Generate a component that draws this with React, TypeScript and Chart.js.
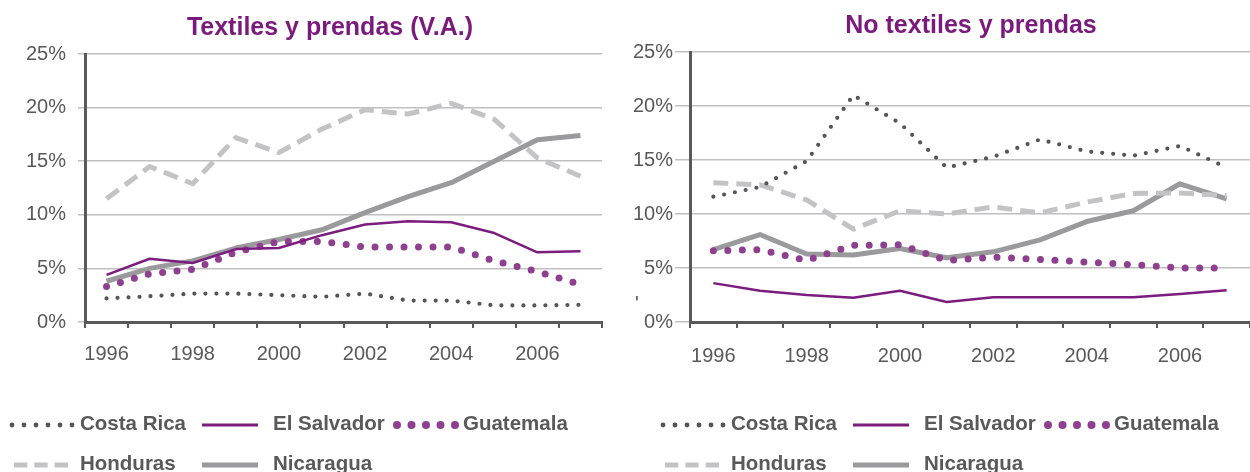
import React, { useEffect, useRef } from 'react';
import { Chart, registerables } from 'chart.js';

Chart.register(...registerables);

const FONT = "'Liberation Sans', Arial, sans-serif";
const GRAY_TEXT = '#595959';
const TITLE_COLOR = '#7A1A7C';

const years = ['1996', '1997', '1998', '1999', '2000', '2001', '2002', '2003', '2004', '2005', '2006', '2007'];
const shownYears = ['1996', '1998', '2000', '2002', '2004', '2006'];
const yTicks = [0, 5, 10, 15, 20, 25];
const countries = ['Costa Rica', 'El Salvador', 'Guatemala', 'Honduras', 'Nicaragua'];

// Textiles y prendas (V.A.)  (%)
const taCostaRica = [2.2, 2.4, 2.65, 2.65, 2.5, 2.35, 2.65, 2.0, 2.0, 1.55, 1.55, 1.6];
const taElSalvador = [4.4, 5.9, 5.5, 6.8, 6.9, 8.1, 9.1, 9.4, 9.3, 8.3, 6.5, 6.6];
const taGuatemala = [3.3, 4.5, 4.9, 6.5, 7.5, 7.5, 7.0, 7.0, 7.0, 5.7, 4.7, 3.5];
const taHonduras = [11.5, 14.5, 12.9, 17.2, 15.8, 18.0, 19.8, 19.4, 20.4, 18.9, 15.3, 13.6];
const taNicaragua = [3.8, 5.0, 5.7, 6.9, 7.7, 8.6, 10.2, 11.7, 13.0, 15.0, 17.0, 17.4];

// No textiles y prendas (%)
const ntCostaRica = [11.6, 12.5, 14.9, 21.0, 18.4, 14.3, 15.3, 16.9, 15.8, 15.4, 16.3, 14.3];
const ntElSalvador = [3.6, 2.9, 2.5, 2.25, 2.9, 1.85, 2.3, 2.3, 2.3, 2.3, 2.6, 2.95];
const ntGuatemala = [6.6, 6.7, 5.7, 7.1, 7.15, 5.7, 6.0, 5.8, 5.55, 5.3, 5.0, 5.0];
const ntHonduras = [12.9, 12.7, 11.3, 8.6, 10.3, 10.0, 10.65, 10.1, 11.1, 11.9, 11.95, 11.7];
const ntNicaragua = [6.7, 8.1, 6.3, 6.2, 6.8, 5.95, 6.5, 7.6, 9.3, 10.3, 12.8, 11.4];

const styles = [
  { color: '#555555', width: 4.2, dash: [0, 11], cap: 'round', legend: 'smallDots' },
  { color: '#7B1C7E', width: 2.5, dash: [], cap: 'butt', legend: 'line' },
  { color: '#8E3F8F', width: 7, dash: [0, 14.5], cap: 'round', legend: 'bigDots' },
  { color: '#C3C3C6', width: 5, dash: [15, 8], cap: 'butt', legend: 'dash' },
  { color: '#9A9A9C', width: 5, dash: [], cap: 'butt', legend: 'thick' },
];

// legend layout (x relative to canvas of left chart; right chart shifted)
const legendLayout = [
  { row: 0, sx1: 12, sx2: 72, tx: 80 },
  { row: 0, sx1: 202, sx2: 258, tx: 273 },
  { row: 0, sx1: 397, sx2: 455, tx: 463 },
  { row: 1, sx1: 14, sx2: 68, tx: 80 },
  { row: 1, sx1: 202, sx2: 258, tx: 273 },
];
const legendRowsY = [424, 464];

const overlayPlugin = {
  id: 'overlay',
  afterDraw(chart: any) {
    const o = chart.options.plugins.overlay;
    const ctx = chart.ctx;
    ctx.save();
    // title
    ctx.fillStyle = TITLE_COLOR;
    ctx.font = `bold 25px ${FONT}`;
    ctx.textAlign = 'center';
    ctx.textBaseline = 'middle';
    ctx.fillText(o.title, o.titleX, o.titleY);
    if (o.mark) {
      ctx.fillStyle = GRAY_TEXT;
      ctx.font = `20px ${FONT}`;
      ctx.fillText("'", o.mark[0], o.mark[1]);
    }
    // legend
    chart.data.datasets.forEach((ds: any, i: number) => {
      const lay = legendLayout[i];
      const st = styles[i];
      const y = legendRowsY[lay.row];
      const x1 = lay.sx1 + o.legendDx;
      const x2 = lay.sx2 + o.legendDx;
      ctx.fillStyle = st.color;
      ctx.strokeStyle = st.color;
      ctx.setLineDash([]);
      if (st.legend === 'smallDots' || st.legend === 'bigDots') {
        const n = st.legend === 'smallDots' ? 6 : 5;
        const r = st.legend === 'smallDots' ? 2.4 : 4;
        for (let k = 0; k < n; k++) {
          const cx = x1 + ((x2 - x1) * k) / (n - 1);
          ctx.beginPath();
          ctx.arc(cx, y + 1, r, 0, Math.PI * 2);
          ctx.fill();
        }
      } else if (st.legend === 'dash') {
        ctx.lineWidth = 5;
        const seg = (x2 - x1 - 14) / 3;
        for (let k = 0; k < 3; k++) {
          const sx = x1 + k * (seg + 7);
          ctx.beginPath();
          ctx.moveTo(sx, y + 1);
          ctx.lineTo(sx + seg, y + 1);
          ctx.stroke();
        }
      } else {
        ctx.lineWidth = st.legend === 'thick' ? 5 : 3;
        ctx.beginPath();
        ctx.moveTo(x1, y + 1);
        ctx.lineTo(x2, y + 1);
        ctx.stroke();
      }
      ctx.fillStyle = GRAY_TEXT;
      ctx.font = `bold 20.5px ${FONT}`;
      ctx.textAlign = 'left';
      ctx.textBaseline = 'middle';
      ctx.fillText(ds.label, lay.tx + o.legendDx, y);
    });
    ctx.restore();
  },
};

function makeConfig(series: number[][], p: any) {
  return {
    type: 'line',
    data: {
      labels: years,
      datasets: series.map((data, i) => ({
        label: countries[i],
        data,
        borderColor: styles[i].color,
        backgroundColor: styles[i].color,
        borderWidth: styles[i].width,
        borderDash: styles[i].dash,
        borderCapStyle: styles[i].cap,
        borderJoinStyle: 'round',
        pointRadius: 0,
        pointHoverRadius: 0,
        tension: 0,
        fill: false,
      })),
    },
    options: {
      responsive: false,
      animation: false,
      events: [],
      layout: { padding: { top: p.top, right: p.right, bottom: 100, left: 0 } },
      plugins: {
        legend: { display: false },
        title: { display: false },
        tooltip: { enabled: false },
        overlay: p.overlay,
      },
      scales: {
        x: {
          type: 'category',
          offset: true,
          ticks: {
            autoSkip: false,
            maxRotation: 0,
            minRotation: 0,
            color: GRAY_TEXT,
            font: { size: 20, family: FONT },
            padding: p.xPad,
            callback: (_v: any, i: number) => (shownYears.includes(years[i]) ? years[i] : ''),
          },
          grid: {
            offset: true,
            drawOnChartArea: false,
            drawTicks: true,
            tickLength: 6,
            color: GRAY_TEXT,
            lineWidth: 2,
          },
          border: { display: true, color: GRAY_TEXT, width: 3 },
          afterFit: (s: any) => {
            s.height = 50;
          },
        },
        y: {
          min: 0,
          max: 25,
          afterBuildTicks: (s: any) => {
            s.ticks = yTicks.map((v) => ({ value: v }));
          },
          ticks: {
            color: GRAY_TEXT,
            font: { size: 20, family: FONT },
            padding: p.yPad,
            callback: (v: any) => `${v}%`,
          },
          grid: {
            color: '#BFBFBF',
            lineWidth: 1.5,
            drawTicks: true,
            tickLength: p.yTick,
          },
          border: { display: true, color: GRAY_TEXT, width: 3 },
          afterFit: (s: any) => {
            s.width = p.yWidth;
          },
        },
      },
    },
    plugins: [overlayPlugin],
  } as any;
}

function ChartCanvas({ series, p, left }: { series: number[][]; p: any; left: number }) {
  const ref = useRef<HTMLCanvasElement | null>(null);
  useEffect(() => {
    if (!ref.current) return;
    const chart = new Chart(ref.current, makeConfig(series, p));
    return () => chart.destroy();
  }, []);
  return (
    <canvas
      ref={ref}
      width={625}
      height={472}
      style={{ position: 'absolute', left, top: 0, width: 625, height: 472 }}
    />
  );
}

export default function App() {
  Chart.defaults.font.family = FONT;
  return (
    <div style={{ position: 'fixed', left: 0, top: 0, width: 1250, height: 472, background: '#fff' }}>
      <ChartCanvas
        left={0}
        series={[taCostaRica, taElSalvador, taGuatemala, taHonduras, taNicaragua]}
        p={{
          top: 54,
          right: 23,
          yWidth: 85,
          yTick: 7,
          yPad: 12,
          xPad: 14,
          overlay: { title: 'Textiles y prendas (V.A.)', titleX: 330, titleY: 28, legendDx: 0 },
        }}
      />
      <ChartCanvas
        left={625}
        series={[ntCostaRica, ntElSalvador, ntGuatemala, ntHonduras, ntNicaragua]}
        p={{
          top: 52,
          right: 0,
          yWidth: 65,
          yTick: 15,
          yPad: 2,
          xPad: 16,
          overlay: { title: 'No textiles y prendas', titleX: 346, titleY: 26, legendDx: 26, mark: [12, 304] },
        }}
      />
    </div>
  );
}
